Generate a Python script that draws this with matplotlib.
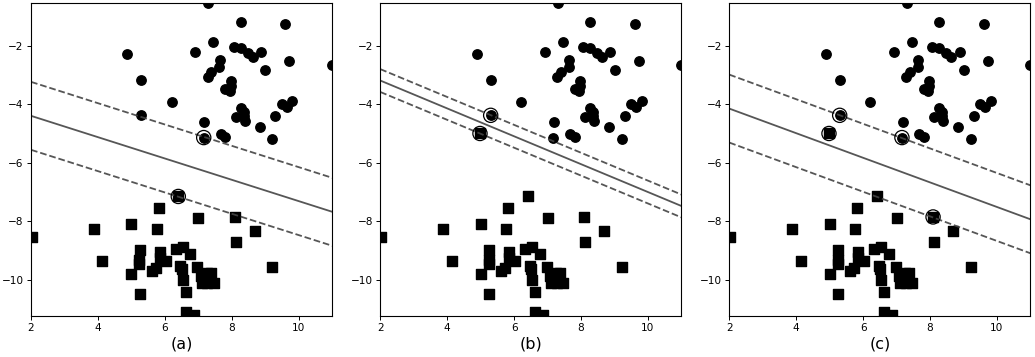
import matplotlib

matplotlib.use("Agg")
import matplotlib.pyplot as plt
import numpy as np

# class +1 (circles)
circle_x = [7.30, 8.28, 9.60, 4.88, 6.91, 7.45, 8.07, 8.28, 8.49, 8.62,
            8.88, 9.72, 10.99, 7.65, 7.63, 7.39, 7.29, 9.00, 5.30, 7.98,
            7.98, 7.81, 7.95, 6.22, 5.30, 7.18, 8.11, 8.28, 8.35, 8.37,
            8.39, 8.85, 9.30, 9.50, 9.65, 9.81, 9.21, 7.16, 7.68, 7.81]
circle_y = [-0.55, -1.19, -1.26, -2.28, -2.22, -1.89, -2.05, -2.09, -2.26, -2.40,
            -2.23, -2.53, -2.66, -2.50, -2.74, -2.90, -3.08, -2.84, -3.17, -3.21,
            -3.38, -3.49, -3.56, -3.93, -4.38, -4.61, -4.45, -4.13, -4.25, -4.42,
            -4.56, -4.79, -4.40, -4.00, -4.10, -3.89, -5.19, -5.14, -5.01, -5.12]

# class -1 (squares)
square_x = [6.40, 5.83, 7.00, 8.09, 5.00, 3.87, 5.77, 8.70, 8.11, 2.03,
            5.26, 5.86, 6.34, 6.53, 6.76, 4.13, 5.24, 5.24, 6.02, 5.86,
            5.72, 5.60, 6.46, 6.51, 6.97, 5.00, 6.54, 7.07, 7.25, 7.38,
            7.11, 7.27, 7.46, 6.63, 9.21, 5.26, 6.62, 6.86]
square_y = [-7.15, -7.55, -7.89, -7.85, -8.10, -8.27, -8.25, -8.33, -8.71, -8.54,
            -8.99, -9.04, -8.95, -8.86, -9.12, -9.36, -9.32, -9.45, -9.34, -9.26,
            -9.61, -9.68, -9.51, -9.63, -9.55, -9.80, -10.00, -9.88, -9.75, -9.77,
            -10.09, -10.09, -10.09, -10.42, -9.55, -10.49, -11.11, -11.19]

# outlier square added in panels (b) and (c)
outlier = (4.98, -5.00)

panel_labels = ["(a)", "(b)", "(c)"]
use_outlier = [False, True, True]

# decision boundary y = slope * x + intercept, margins at +/- offset
slopes = [-0.364, -0.476, -0.420]
intercepts = [-3.67, -2.24, -3.31]
offsets = [1.16, 0.39, 1.16]

# support vectors per panel
sv_x = [[7.16, 6.40], [5.30, 4.98], [5.30, 7.16, 4.98, 8.09]]
sv_y = [[-5.14, -7.15], [-4.38, -5.00], [-4.38, -5.14, -5.00, -7.85]]

fig = plt.figure(figsize=(10.35, 3.57), dpi=100)
lefts = [0.030, 0.3674, 0.7046]

for i, label in enumerate(panel_labels):
    ax = fig.add_axes([lefts[i], 0.115, 0.291, 0.877])
    sx, sy = list(square_x), list(square_y)
    if use_outlier[i]:
        sx.append(outlier[0])
        sy.append(outlier[1])
    ax.scatter(circle_x, circle_y, s=46, c="k", marker="o", zorder=2)
    ax.scatter(sx, sy, s=46, c="k", marker="s", zorder=2)
    ax.scatter(sv_x[i], sv_y[i], s=105, facecolors="none",
               edgecolors="k", linewidths=0.9, zorder=3)

    xx = np.linspace(2, 11, 50)
    yy = slopes[i] * xx + intercepts[i]
    ax.plot(xx, yy, color="#444444", lw=1.3, alpha=0.9)
    ax.plot(xx, yy + offsets[i], color="#444444", lw=1.3, ls="--", alpha=0.9)
    ax.plot(xx, yy - offsets[i], color="#444444", lw=1.3, ls="--", alpha=0.9)

    ax.set_xlim(2, 11)
    ax.set_ylim(-11.23, -0.54)
    ax.set_xticks([2, 4, 6, 8, 10])
    ax.set_yticks([-10, -8, -6, -4, -2])
    ax.tick_params(labelsize=7.6, length=2.8, width=0.7, pad=2.5)
    for sp in ax.spines.values():
        sp.set_linewidth(0.8)
    ax.set_xlabel(label, fontsize=11.5, labelpad=2)

fig.savefig("out.png", dpi=100)
